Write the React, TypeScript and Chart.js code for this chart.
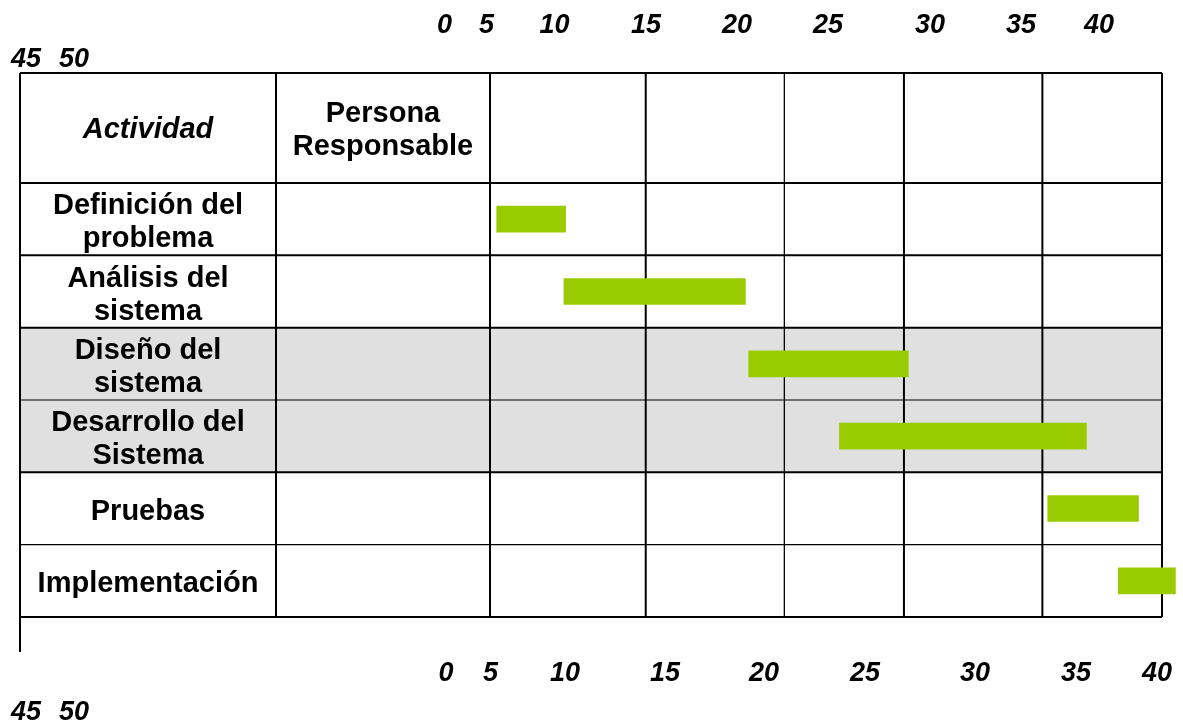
import React, { useEffect, useRef } from "react";
import { Chart, registerables } from "chart.js";

Chart.register(...registerables);

// ---------- data ----------
const activities: string[][] = [
  ["Definición del", "problema"],
  ["Análisis del", "sistema"],
  ["Diseño del", "sistema"],
  ["Desarrollo del", "Sistema"],
  ["Pruebas"],
  ["Implementación"],
];
const startValues = [0.4, 4.4, 15.4, 20.8, 33.2, 37.4];
const endValues = [4.5, 15.2, 24.9, 35.5, 38.6, 40.8];
const shadedRows = [false, false, true, true, false, false];
const tickLabels = ["0", "5", "10", "15", "20", "25", "30", "35", "40", "45", "50"];
const columnBreaks = [9.27, 17.52, 24.64, 32.88];
const headerActivity = "Actividad";
const headerPerson = ["Persona", "Responsable"];

// ---------- layout ----------
const W = 1183;
const H = 723;
const TABLE_LEFT = 20;
const PERSON_COL_LEFT = 276;
const TABLE_TOP = 73;
const LEFT_LINE_BOTTOM = 652;
const LINE_H = 33;
const LABEL_FONT = "bold 29px 'Liberation Sans', Arial, sans-serif";
const HEADER_ITALIC_FONT = "italic bold 29px 'Liberation Sans', Arial, sans-serif";
const TICK_FONT = "italic bold 27px 'Liberation Sans', Arial, sans-serif";
const TOP_TICK_X = [444.5, 486.5, 554.5, 646, 737, 828, 930, 1021, 1099, 26, 74];
const BOTTOM_TICK_X = [446, 490.5, 565, 665, 764, 865, 975, 1076, 1157, 26, 74];
const TOP_TICK_Y = [33, 67];
const BOTTOM_TICK_Y = [681, 720];

function drawLines(ctx: CanvasRenderingContext2D, lines: string[], cx: number, cy: number) {
  const n = lines.length;
  lines.forEach((t, i) => {
    const by = cy + (i - (n - 1) / 2) * LINE_H + 10;
    ctx.fillText(t, cx, by);
  });
}

const tablePlugin = {
  id: "ganttTable",
  beforeDatasetsDraw(chart: any) {
    const { ctx, chartArea } = chart;
    const xs = chart.scales.x;
    const ys = chart.scales.y;
    const right = chartArea.right;
    const rowH = (chartArea.bottom - chartArea.top) / activities.length;
    ctx.save();

    // shaded rows
    ctx.fillStyle = "#e0e0e0";
    activities.forEach((_, i) => {
      if (!shadedRows[i]) return;
      const cy = ys.getPixelForValue(i);
      ctx.fillRect(TABLE_LEFT, cy - rowH / 2, right - TABLE_LEFT, rowH);
    });

    // horizontal lines
    ctx.strokeStyle = "#000";
    const hLine = (y: number, w: number) => {
      ctx.lineWidth = w;
      ctx.beginPath();
      ctx.moveTo(TABLE_LEFT, y);
      ctx.lineTo(right, y);
      ctx.stroke();
    };
    hLine(TABLE_TOP, 2);
    hLine(chartArea.top, 2);
    for (let i = 0; i < activities.length - 1; i++) {
      const yb = (ys.getPixelForValue(i) + ys.getPixelForValue(i + 1)) / 2;
      hLine(yb, i === 2 ? 1 : i === 4 ? 1.4 : 2);
    }
    hLine(chartArea.bottom, 2);

    // vertical lines
    const vLine = (x: number, y0: number, y1: number, w: number) => {
      ctx.lineWidth = w;
      ctx.beginPath();
      ctx.moveTo(x, y0);
      ctx.lineTo(x, y1);
      ctx.stroke();
    };
    vLine(TABLE_LEFT, TABLE_TOP, LEFT_LINE_BOTTOM, 2);
    vLine(PERSON_COL_LEFT, TABLE_TOP, chartArea.bottom, 2);
    vLine(chartArea.left, TABLE_TOP, chartArea.bottom, 2);
    columnBreaks.forEach((v, i) => vLine(xs.getPixelForValue(v), TABLE_TOP, chartArea.bottom, i === 1 ? 1.3 : 2));
    vLine(right, TABLE_TOP, chartArea.bottom, 2);

    // header texts
    ctx.fillStyle = "#000";
    ctx.textAlign = "center";
    ctx.textBaseline = "alphabetic";
    const headerCy = (TABLE_TOP + chartArea.top) / 2;
    ctx.font = HEADER_ITALIC_FONT;
    drawLines(ctx, [headerActivity], (TABLE_LEFT + PERSON_COL_LEFT) / 2, headerCy);
    ctx.font = LABEL_FONT;
    drawLines(ctx, headerPerson, (PERSON_COL_LEFT + chartArea.left) / 2, headerCy);

    // activity labels
    activities.forEach((lines, i) => {
      drawLines(ctx, lines, (TABLE_LEFT + PERSON_COL_LEFT) / 2, ys.getPixelForValue(i) + 1.5);
    });

    // tick label rows (top and bottom)
    ctx.font = TICK_FONT;
    tickLabels.forEach((t, i) => {
      const row = i < 9 ? 0 : 1;
      ctx.fillText(t, TOP_TICK_X[i], TOP_TICK_Y[row]);
      ctx.fillText(t, BOTTOM_TICK_X[i], BOTTOM_TICK_Y[row]);
    });

    ctx.restore();
  },
};

export default function App() {
  const ref = useRef<HTMLCanvasElement | null>(null);

  useEffect(() => {
    if (!ref.current) return;
    const chart = new Chart(ref.current, {
      type: "bar",
      data: {
        labels: activities,
        datasets: [
          {
            data: activities.map((_, i) => [startValues[i], endValues[i]]) as any,
            backgroundColor: "#99cc00",
            borderWidth: 0,
            barThickness: 26,
            clip: false as any,
          },
        ],
      },
      options: {
        indexAxis: "y",
        animation: false,
        responsive: false,
        maintainAspectRatio: false,
        layout: { padding: { left: 490, right: 21, top: 183, bottom: 106 } },
        scales: {
          x: { type: "linear", min: 0, max: 40, display: false },
          y: { type: "category", display: false, offset: true },
        },
        plugins: {
          legend: { display: false },
          tooltip: { enabled: false },
        },
      },
      plugins: [tablePlugin],
    });
    return () => chart.destroy();
  }, []);

  return (
    <div style={{ position: "absolute", left: 0, top: 0, width: W, height: H, background: "#fff" }}>
      <canvas ref={ref} width={W} height={H} />
    </div>
  );
}
